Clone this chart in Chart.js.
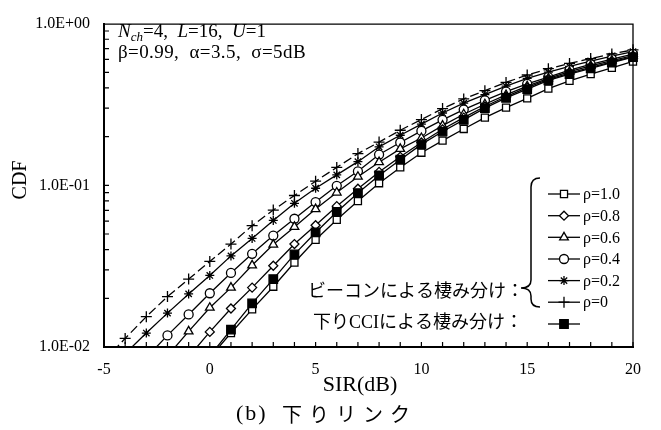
<!DOCTYPE html>
<html><head><meta charset="utf-8">
<script src="https://cdn.jsdelivr.net/npm/chart.js@4/dist/chart.umd.min.js"></script>
<style>html,body{margin:0;padding:0;background:#fff}#wrap{position:relative;width:661px;height:430px}</style>
</head><body><div id="wrap"><canvas id="c" width="661" height="430"></canvas></div>
<script>
// ---- data ----
const sirDb = [-5,-4,-3,-2,-1,0,1,2,3,4,5,6,7,8,9,10,11,12,13,14,15,16,17,18,19,20];
const cdfRho10 = [null,null,null,null,null,0.0086,0.0122,0.0171,0.0236,0.0333,0.0460,0.0612,0.0799,0.103,0.129,0.159,0.189,0.223,0.262,0.302,0.345,0.396,0.442,0.487,0.533,0.583];
const cdfRho08 = [null,null,null,null,0.0087,0.0124,0.0173,0.0233,0.0318,0.0433,0.0566,0.0743,0.0953,0.121,0.150,0.184,0.222,0.262,0.307,0.354,0.402,0.452,0.494,0.537,0.579,0.625];
const cdfRho06 = [null,null,null,0.0088,0.0125,0.0175,0.0233,0.0320,0.0430,0.0553,0.0713,0.0902,0.113,0.139,0.168,0.196,0.234,0.275,0.317,0.362,0.410,0.458,0.504,0.548,0.591,0.634];
const cdfRho04 = [null,null,0.0086,0.0118,0.0159,0.0215,0.0287,0.0377,0.0489,0.0621,0.0788,0.0993,0.122,0.155,0.184,0.217,0.254,0.294,0.335,0.380,0.424,0.467,0.515,0.559,0.603,0.647];
const cdfRho02 = [null,0.0091,0.0122,0.0162,0.0213,0.0277,0.0366,0.0469,0.0606,0.0774,0.0959,0.116,0.140,0.173,0.204,0.239,0.280,0.322,0.364,0.410,0.458,0.501,0.544,0.587,0.629,0.670];
const cdfRho00 = [0.0082,0.0113,0.0154,0.0205,0.0263,0.0338,0.0433,0.0563,0.0703,0.0865,0.106,0.129,0.157,0.185,0.219,0.255,0.298,0.342,0.385,0.433,0.481,0.526,0.567,0.608,0.649,0.688];
const cdfCci   = [null,null,null,null,null,0.0088,0.0128,0.0186,0.0263,0.0374,0.0511,0.0684,0.0895,0.115,0.144,0.179,0.215,0.254,0.300,0.347,0.393,0.445,0.487,0.529,0.573,0.621];

const seriesLabels = ['ρ=1.0','ρ=0.8','ρ=0.6','ρ=0.4','ρ=0.2','ρ=0'];
const xTickValues = [-5,0,5,10,15,20];
const yTickValues = [0.01,0.1,1];
const yTickLabels = ['1.0E-02','1.0E-01','1.0E+00'];
const xTitle = 'SIR(dB)';
const yTitle = 'CDF';
const groupLabelBeacon = 'ビーコンによる棲み分け：';
const groupLabelCci = '下りCCIによる棲み分け：';
const captionPrefix = '(b)';
const captionText = '下りリンク';

// ---- styles ----
const SERIF = '"Liberation Serif", "Times New Roman", serif';
const CJK = '"Noto Sans CJK JP", sans-serif';
function pts(arr){ const o=[]; sirDb.forEach((x,i)=>{ if(arr[i]!==null) o.push({x:x,y:arr[i]}); }); return o; }
function ds(label, arr, style, radius, fill, dash, order){
  return {label, data: pts(arr), borderColor:'#000', borderWidth:1.3, borderDash: dash||[],
    pointStyle: style, pointRadius: radius, pointBorderColor:'#000', pointBorderWidth:1.3,
    pointBackgroundColor: fill, fill:false, tension:0, order: order,
    clip:{left:false, top:false, right:false, bottom:0}};
}
const datasets = [
  ds('CCI', cdfCci, 'rect', 6, '#000', null, 0),
  ds(seriesLabels[0], cdfRho10, 'rect', 5, '#fff', null, 1),
  ds(seriesLabels[1], cdfRho08, 'rectRot', 4.5, '#fff', null, 1),
  ds(seriesLabels[2], cdfRho06, 'triangle', 5, '#fff', null, 1),
  ds(seriesLabels[3], cdfRho04, 'circle', 4.5, '#fff', null, 1),
  ds(seriesLabels[4], cdfRho02, 'star', 4.5, '#fff', null, 1),
  ds(seriesLabels[5], cdfRho00, 'cross', 5.5, '#fff', [9,4], 1),
];

function fmtExp(v){ const i = yTickValues.findIndex(t=>Math.abs(t-v)<1e-9); return i>=0 ? yTickLabels[i] : ''; }

const decorPlugin = {
  id:'decor',
  afterDraw(chart){
    const ctx = chart.ctx, ca = chart.chartArea, xs = chart.scales.x, ys = chart.scales.y;
    ctx.save();
    // top & right frame
    ctx.strokeStyle='#000'; ctx.lineWidth=1.3;
    ctx.beginPath(); ctx.moveTo(ca.left, ca.top+0.5); ctx.lineTo(ca.right, ca.top+0.5); ctx.lineTo(ca.right, ca.bottom); ctx.stroke();
    // inward ticks
    ctx.lineWidth=1.2;
    ctx.beginPath();
    for(let v=-5; v<=20; v++){ const px = xs.getPixelForValue(v); ctx.moveTo(px, ca.bottom); ctx.lineTo(px, ca.bottom-5); }
    [0.01,0.1].forEach(d=>{ for(let k=1;k<=9;k++){ const py = ys.getPixelForValue(d*k); ctx.moveTo(ca.left, py); ctx.lineTo(ca.left+5, py);} });
    ctx.stroke();
    // axis titles
    ctx.fillStyle='#000';
    ctx.font = '22px '+SERIF; ctx.textAlign='center'; ctx.textBaseline='middle';
    ctx.fillText(xTitle, 360, 385);
    ctx.save(); ctx.translate(21,180); ctx.rotate(-Math.PI/2); ctx.font='20px '+SERIF; ctx.fillText(yTitle,0,0); ctx.restore();
    // caption
    ctx.textAlign='left'; ctx.textBaseline='middle';
    ctx.font='22px '+SERIF; try{ ctx.letterSpacing='2px'; }catch(e){}
    ctx.fillText(captionPrefix, 236, 414);
    ctx.font='20px '+CJK; try{ ctx.letterSpacing='7px'; }catch(e){}
    ctx.fillText(captionText, 282, 414);
    try{ ctx.letterSpacing='0px'; }catch(e){}
    // annotation
    ctx.textBaseline='alphabetic';
    let x = 118; const b1 = 37;
    const seg = (t, f, dy)=>{ ctx.font=f; ctx.fillText(t, x, b1+(dy||0)); x += ctx.measureText(t).width; };
    seg('N','italic 19px '+SERIF);
    seg('ch','italic 13px '+SERIF, 4);
    seg('=4,  ','19px '+SERIF);
    seg('L','italic 19px '+SERIF);
    seg('=16,  ','19px '+SERIF);
    seg('U','italic 19px '+SERIF);
    seg('=1','19px '+SERIF);
    ctx.font='19px '+SERIF; try{ ctx.letterSpacing='0.4px'; }catch(e){}
    ctx.fillText('β=0.99,  α=3.5,  σ=5dB', 118, 58);
    try{ ctx.letterSpacing='0px'; }catch(e){}
    // legend
    const legendYs = [194,215.7,237.3,259,280.6,302.2];
    const order = [1,2,3,4,5,6];
    order.forEach((di, k)=>{
      const d = chart.data.datasets[di], y = legendYs[k];
      ctx.strokeStyle='#000'; ctx.lineWidth=1.3;
      ctx.beginPath(); ctx.moveTo(548,y); ctx.lineTo(580,y); ctx.stroke();
      ctx.fillStyle=d.pointBackgroundColor; ctx.strokeStyle='#000';
      Chart.helpers.drawPoint(ctx,{pointStyle:d.pointStyle, radius:d.pointRadius, rotation:0, borderWidth:1.3},564,y);
      ctx.fillStyle='#000'; ctx.font='16px '+SERIF; ctx.textBaseline='middle'; ctx.textAlign='left';
      ctx.fillText(d.label, 583, y+1);
    });
    { const y=324;
      ctx.strokeStyle='#000'; ctx.lineWidth=1.3; ctx.beginPath(); ctx.moveTo(548,y); ctx.lineTo(580,y); ctx.stroke();
      ctx.fillStyle='#000'; Chart.helpers.drawPoint(ctx,{pointStyle:'rect', radius:6, rotation:0, borderWidth:1.3},564,y); }
    // bracket
    ctx.strokeStyle='#000'; ctx.lineWidth=1.5; ctx.beginPath();
    ctx.moveTo(540,178); ctx.quadraticCurveTo(531,178,531,187);
    ctx.lineTo(531,280); ctx.quadraticCurveTo(531,288,521,288);
    ctx.quadraticCurveTo(531,288,531,296);
    ctx.lineTo(531,299); ctx.quadraticCurveTo(531,307,540,307);
    ctx.stroke();
    // group labels
    ctx.fillStyle='#000'; ctx.textBaseline='middle'; ctx.textAlign='left';
    ctx.font='18px "Liberation Serif", "Noto Sans CJK JP", sans-serif';
    ctx.fillText(groupLabelBeacon, 308, 292);
    ctx.fillText(groupLabelCci, 313, 323);
    ctx.restore();
  }
};

new Chart(document.getElementById('c'), {
  type:'line',
  data:{ datasets },
  options:{
    responsive:false, animation:false, events:[],
    layout:{ padding:{ left:0, top:14, right:28, bottom:0 } },
    plugins:{ legend:{display:false}, tooltip:{enabled:false} },
    scales:{
      x:{ type:'linear', min:-5, max:20,
        afterFit(s){ s.height = 83; },
        afterBuildTicks(s){ s.ticks = xTickValues.map(v=>({value:v})); },
        grid:{ display:true, drawOnChartArea:false, drawTicks:false },
        border:{ display:true, color:'#000', width:2 },
        ticks:{ color:'#000', padding:13, maxRotation:0, font:{ family:'Liberation Serif', size:16 } } },
      y:{ type:'logarithmic', min:0.01, max:1,
        afterFit(s){ s.width = 104; },
        afterBuildTicks(s){ s.ticks = yTickValues.map(v=>({value:v})); },
        grid:{ display:true, drawOnChartArea:false, drawTicks:false },
        border:{ display:true, color:'#000', width:2 },
        ticks:{ color:'#000', padding:14, callback:(v)=>fmtExp(v), font:{ family:'Liberation Serif', size:16 } } }
    }
  },
  plugins:[decorPlugin]
});
</script></body></html>
